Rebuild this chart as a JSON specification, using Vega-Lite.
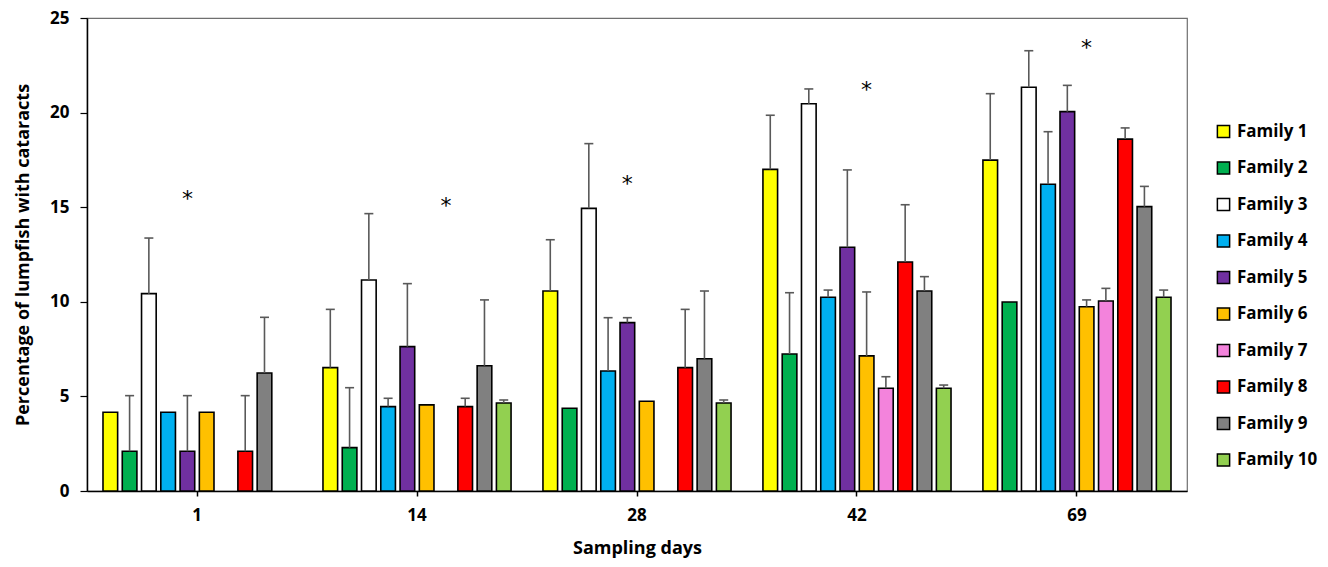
{
  "$schema": "https://vega.github.io/schema/vega-lite/v6.json",
  "width": 1100,
  "height": 473,
  "autosize": {"type": "none"},
  "padding": {"left": 87, "top": 18, "right": 141, "bottom": 76},
  "config": {
    "font": "Open Sans",
    "view": {"stroke": "#6f6f6f", "strokeWidth": 1.2},
    "axis": {"labelFont": "Open Sans", "titleFont": "Open Sans", "labelColor": "black", "titleColor": "black", "labelFontWeight": "bold", "titleFontWeight": "bold", "grid": false}
  },
  "datasets": {
    "bars": [
      {"day": "1", "family": "Family 1", "value": 4.16, "upper": null},
      {"day": "1", "family": "Family 2", "value": 2.10, "upper": 5.04},
      {"day": "1", "family": "Family 3", "value": 10.43, "upper": 13.37},
      {"day": "1", "family": "Family 4", "value": 4.16, "upper": null},
      {"day": "1", "family": "Family 5", "value": 2.10, "upper": 5.04},
      {"day": "1", "family": "Family 6", "value": 4.16, "upper": null},
      {"day": "1", "family": "Family 8", "value": 2.10, "upper": 5.04},
      {"day": "1", "family": "Family 9", "value": 6.24, "upper": 9.18},
      {"day": "14", "family": "Family 1", "value": 6.52, "upper": 9.60},
      {"day": "14", "family": "Family 2", "value": 2.29, "upper": 5.46},
      {"day": "14", "family": "Family 3", "value": 11.15, "upper": 14.66},
      {"day": "14", "family": "Family 4", "value": 4.46, "upper": 4.90},
      {"day": "14", "family": "Family 5", "value": 7.63, "upper": 10.96},
      {"day": "14", "family": "Family 6", "value": 4.55, "upper": null},
      {"day": "14", "family": "Family 8", "value": 4.46, "upper": 4.90},
      {"day": "14", "family": "Family 9", "value": 6.62, "upper": 10.10},
      {"day": "14", "family": "Family 10", "value": 4.65, "upper": 4.81},
      {"day": "28", "family": "Family 1", "value": 10.57, "upper": 13.28},
      {"day": "28", "family": "Family 2", "value": 4.37, "upper": null},
      {"day": "28", "family": "Family 3", "value": 14.94, "upper": 18.36},
      {"day": "28", "family": "Family 4", "value": 6.34, "upper": 9.16},
      {"day": "28", "family": "Family 5", "value": 8.90, "upper": 9.16},
      {"day": "28", "family": "Family 6", "value": 4.74, "upper": null},
      {"day": "28", "family": "Family 8", "value": 6.52, "upper": 9.60},
      {"day": "28", "family": "Family 9", "value": 6.99, "upper": 10.57},
      {"day": "28", "family": "Family 10", "value": 4.65, "upper": 4.81},
      {"day": "42", "family": "Family 1", "value": 17.00, "upper": 19.86},
      {"day": "42", "family": "Family 2", "value": 7.24, "upper": 10.48},
      {"day": "42", "family": "Family 3", "value": 20.47, "upper": 21.25},
      {"day": "42", "family": "Family 4", "value": 10.24, "upper": 10.62},
      {"day": "42", "family": "Family 5", "value": 12.88, "upper": 16.97},
      {"day": "42", "family": "Family 6", "value": 7.14, "upper": 10.52},
      {"day": "42", "family": "Family 7", "value": 5.43, "upper": 6.04},
      {"day": "42", "family": "Family 8", "value": 12.10, "upper": 15.13},
      {"day": "42", "family": "Family 9", "value": 10.57, "upper": 11.33},
      {"day": "42", "family": "Family 10", "value": 5.43, "upper": 5.60},
      {"day": "69", "family": "Family 1", "value": 17.49, "upper": 21.00},
      {"day": "69", "family": "Family 2", "value": 9.99, "upper": null},
      {"day": "69", "family": "Family 3", "value": 21.34, "upper": 23.27},
      {"day": "69", "family": "Family 4", "value": 16.21, "upper": 18.99},
      {"day": "69", "family": "Family 5", "value": 20.05, "upper": 21.44},
      {"day": "69", "family": "Family 6", "value": 9.74, "upper": 10.10},
      {"day": "69", "family": "Family 7", "value": 10.04, "upper": 10.71},
      {"day": "69", "family": "Family 8", "value": 18.60, "upper": 19.19},
      {"day": "69", "family": "Family 9", "value": 15.03, "upper": 16.10},
      {"day": "69", "family": "Family 10", "value": 10.24, "upper": 10.62}
    ],
    "marks": [
      {"day": "1", "family": "Family 5", "y": 15.77, "label": "*"},
      {"day": "14", "family": "Family 7", "y": 15.38, "label": "*"},
      {"day": "28", "family": "Family 5", "y": 16.53, "label": "*"},
      {"day": "42", "family": "Family 6", "y": 21.49, "label": "*"},
      {"day": "69", "family": "Family 6", "y": 23.75, "label": "*"}
    ]
  },
  "encoding": {
    "x": {
      "field": "day", "type": "nominal",
      "scale": {"domain": ["1", "14", "28", "42", "69"], "paddingInner": 0.145, "paddingOuter": 0.0727},
      "axis": {"title": "Sampling days", "labelAngle": 0, "labelFontSize": 17, "titleFontSize": 18, "domainColor": "black", "domainWidth": 1.5, "tickColor": "black", "tickSize": 5, "tickWidth": 1.5, "labelPadding": 11, "titlePadding": 16}
    },
    "xOffset": {
      "field": "family", "type": "nominal",
      "scale": {"domain": ["Family 1", "Family 2", "Family 3", "Family 4", "Family 5", "Family 6", "Family 7", "Family 8", "Family 9", "Family 10"], "paddingInner": 0.24, "paddingOuter": 0}
    }
  },
  "layer": [
    {
      "data": {"name": "bars"},
      "mark": {"type": "bar", "stroke": "black", "strokeWidth": 1.6},
      "encoding": {
        "y": {
          "field": "value", "type": "quantitative",
          "scale": {"domain": [0, 25], "nice": false},
          "axis": {"title": "Percentage of lumpfish with cataracts", "values": [0, 5, 10, 15, 20, 25], "labelFontSize": 17, "titleFontSize": 18, "domainColor": "black", "domainWidth": 1.5, "tickColor": "black", "tickSize": 7, "tickWidth": 1.2, "labelPadding": 11, "titlePadding": 17}
        },
        "color": {
          "field": "family", "type": "nominal",
          "scale": {
            "domain": ["Family 1", "Family 2", "Family 3", "Family 4", "Family 5", "Family 6", "Family 7", "Family 8", "Family 9", "Family 10"],
            "range": ["#FFFF00", "#00B050", "#FFFFFF", "#00B0F0", "#7030A0", "#FFC000", "#F383DC", "#FF0000", "#808080", "#92D050"]
          },
          "legend": {"orient": "none", "legendX": 1128, "legendY": 105, "title": null, "symbolType": "square", "symbolSize": 150, "symbolStrokeColor": "black", "symbolStrokeWidth": 1.5, "symbolOpacity": 1, "labelFontSize": 17, "labelFontWeight": "bold", "labelFont": "Open Sans", "labelColor": "black", "rowPadding": 17.5, "labelOffset": 5}
        }
      }
    },
    {
      "data": {"name": "bars"},
      "transform": [{"filter": "datum.upper != null"}],
      "mark": {"type": "rule", "color": "#595959", "strokeWidth": 1.6},
      "encoding": {
        "y": {"field": "value", "type": "quantitative"},
        "y2": {"field": "upper"}
      }
    },
    {
      "data": {"name": "bars"},
      "transform": [{"filter": "datum.upper != null"}],
      "mark": {"type": "tick", "color": "#595959", "thickness": 1.6, "size": 9, "opacity": 1},
      "encoding": {
        "y": {"field": "upper", "type": "quantitative"}
      }
    },
    {
      "data": {"name": "marks"},
      "mark": {"type": "text", "fontSize": 22, "font": "DejaVu Sans", "color": "black", "baseline": "middle", "dy": 6},
      "encoding": {
        "y": {"field": "y", "type": "quantitative"},
        "text": {"field": "label"}
      }
    }
  ]
}
